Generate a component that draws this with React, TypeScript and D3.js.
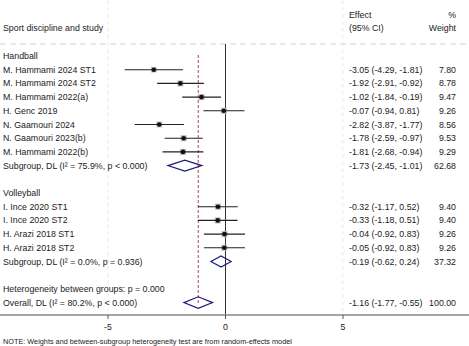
import React from "react";
import * as d3 from "d3";

const handballStudies = ["M. Hammami 2024 ST1", "M. Hammami 2024 ST2", "M. Hammami 2022(a)", "H. Genc 2019", "N. Gaamouri 2024", "N. Gaamouri 2023(b)", "M. Hammami 2022(b)"];
const handballEffect = [-3.05, -1.92, -1.02, -0.07, -2.82, -1.78, -1.81];
const handballLo = [-4.29, -2.91, -1.84, -0.94, -3.87, -2.59, -2.68];
const handballHi = [-1.81, -0.92, -0.19, 0.81, -1.77, -0.97, -0.94];
const handballWeight = [7.80, 8.78, 9.47, 9.26, 8.56, 9.53, 9.29];

const volleyStudies = ["I. Ince 2020 ST1", "I. Ince 2020 ST2", "H. Arazi 2018 ST1", "H. Arazi 2018 ST2"];
const volleyEffect = [-0.32, -0.33, -0.04, -0.05];
const volleyLo = [-1.17, -1.18, -0.92, -0.92];
const volleyHi = [0.52, 0.51, 0.83, 0.83];
const volleyWeight = [9.40, 9.40, 9.26, 9.26];

const subgroupLabels = ["Subgroup, DL (I\u00B2 = 75.9%, p < 0.000)", "Subgroup, DL (I\u00B2 = 0.0%, p = 0.936)"];
const subgroupEffect = [-1.73, -0.19];
const subgroupLo = [-2.45, -0.62];
const subgroupHi = [-1.01, 0.24];
const subgroupWeight = [62.68, 37.32];

const overallLabel = "Overall, DL (I\u00B2 = 80.2%, p < 0.000)";
const overallEffect = -1.16;
const overallLo = -1.77;
const overallHi = -0.55;
const overallWeight = 100.0;

const groupNames = ["Handball", "Volleyball"];
const hetLabel = "Heterogeneity between groups: p = 0.000";
const xTicks = [-5, 0, 5];
const noteText = "NOTE: Weights and between-subgroup heterogeneity test are from random-effects model";

type Row =
  | { kind: "group"; label: string }
  | { kind: "study"; label: string; e: number; lo: number; hi: number; w: number }
  | { kind: "sub"; label: string; e: number; lo: number; hi: number; w: number }
  | { kind: "blank" }
  | { kind: "het"; label: string }
  | { kind: "overall"; label: string; e: number; lo: number; hi: number; w: number };

const rows: Row[] = [];
rows.push({ kind: "group", label: groupNames[0] });
handballStudies.forEach((s, i) => rows.push({ kind: "study", label: s, e: handballEffect[i], lo: handballLo[i], hi: handballHi[i], w: handballWeight[i] }));
rows.push({ kind: "sub", label: subgroupLabels[0], e: subgroupEffect[0], lo: subgroupLo[0], hi: subgroupHi[0], w: subgroupWeight[0] });
rows.push({ kind: "blank" });
rows.push({ kind: "group", label: groupNames[1] });
volleyStudies.forEach((s, i) => rows.push({ kind: "study", label: s, e: volleyEffect[i], lo: volleyLo[i], hi: volleyHi[i], w: volleyWeight[i] }));
rows.push({ kind: "sub", label: subgroupLabels[1], e: subgroupEffect[1], lo: subgroupLo[1], hi: subgroupHi[1], w: subgroupWeight[1] });
rows.push({ kind: "blank" });
rows.push({ kind: "het", label: hetLabel });
rows.push({ kind: "overall", label: overallLabel, e: overallEffect, lo: overallLo, hi: overallHi, w: overallWeight });

const W = 469;
const H = 346;
const FONT = "'Liberation Sans', Arial, Helvetica, sans-serif";
const FS = 8.8;

const fmt = (v: number) => v.toFixed(2);

export default function App() {
  const x = d3.scaleLinear().domain([-5, 5]).range([108, 343]);
  const y = d3.scaleLinear().domain([0, rows.length - 1]).range([56, 302.6]);
  const axisY = 315;
  const navy = "#1b1b7a";

  return (
    <svg width={W} height={H} style={{ position: "absolute", left: 0, top: 0, background: "#fff" }} fontFamily={FONT}>
      {/* faint gridlines */}
      {[-5, 5].map((t) => (
        <line key={"g" + t} x1={x(t)} x2={x(t)} y1={0} y2={axisY} stroke="#e6e6e6" strokeWidth={0.8} strokeDasharray="4,3" />
      ))}
      <line x1={0} x2={W} y1={44} y2={44} stroke="#cfcfcf" strokeWidth={0.9} strokeDasharray="6,4" />
      {/* headers */}
      <text x={3} y={28} fontSize={FS} dominantBaseline="central" fill="#222">Sport discipline and study</text>
      <text x={349} y={15} fontSize={FS} dominantBaseline="central" fill="#222">Effect</text>
      <text x={349} y={28} fontSize={FS} dominantBaseline="central" fill="#222">(95% CI)</text>
      <text x={456} y={15} fontSize={FS} textAnchor="end" dominantBaseline="central" fill="#222">%</text>
      <text x={456} y={28} fontSize={FS} textAnchor="end" dominantBaseline="central" fill="#222">Weight</text>

      {/* null line */}
      <line x1={x(0)} x2={x(0)} y1={44} y2={axisY} stroke="#333" strokeWidth={1} />
      {/* overall effect line */}
      <line x1={x(overallEffect)} x2={x(overallEffect)} y1={55} y2={y(rows.length - 1) + 2} stroke="#b03030" strokeWidth={0.9} strokeDasharray="3,2" />

      {rows.map((r, i) => {
        const cy = y(i);
        if (r.kind === "blank") return null;
        if (r.kind === "group" || r.kind === "het") {
          return (
            <text key={i} x={3} y={cy} fontSize={FS} dominantBaseline="central" fill="#222">{r.label}</text>
          );
        }
        const label = (
          <text x={3} y={cy} fontSize={FS} dominantBaseline="central" fill="#222">{r.label}</text>
        );
        const eff = (
          <text x={349} y={cy} fontSize={FS} dominantBaseline="central" fill="#222">{`${fmt(r.e)} (${fmt(r.lo)}, ${fmt(r.hi)})`}</text>
        );
        const wt = (
          <text x={456} y={cy} fontSize={FS} textAnchor="end" dominantBaseline="central" fill="#222">{fmt(r.w)}</text>
        );
        if (r.kind === "study") {
          const s = Math.sqrt(r.w) * 2;
          return (
            <g key={i}>
              {label}{eff}{wt}
              <rect x={x(r.e) - s / 2} y={cy - s / 2} width={s} height={s} fill="#bdbdbd" />
              <line x1={x(r.lo)} x2={x(r.hi)} y1={cy} y2={cy} stroke="#222" strokeWidth={1.1} />
              <circle cx={x(r.e)} cy={cy} r={2.3} fill="#111" />
            </g>
          );
        }
        const hh = r.kind === "overall" ? 5.8 : 5.5;
        const pts = [
          [x(r.lo), cy],
          [x(r.e), cy - hh],
          [x(r.hi), cy],
          [x(r.e), cy + hh],
        ];
        return (
          <g key={i}>
            {label}{eff}{wt}
            <path d={d3.line()(pts as [number, number][]) + "Z"} fill="none" stroke={navy} strokeWidth={1.2} />
          </g>
        );
      })}

      {/* axis */}
      <line x1={0} x2={W} y1={axisY} y2={axisY} stroke="#888" strokeWidth={1.3} />
      {xTicks.map((t) => (
        <g key={"t" + t}>
          <line x1={x(t)} x2={x(t)} y1={axisY} y2={axisY + 4} stroke="#444" strokeWidth={0.9} />
          <text x={x(t)} y={axisY + 12} fontSize={FS} textAnchor="middle" dominantBaseline="central" fill="#222">{t}</text>
        </g>
      ))}
      <text x={3} y={341} fontSize={7.3} dominantBaseline="central" fill="#222">{noteText}</text>
    </svg>
  );
}
